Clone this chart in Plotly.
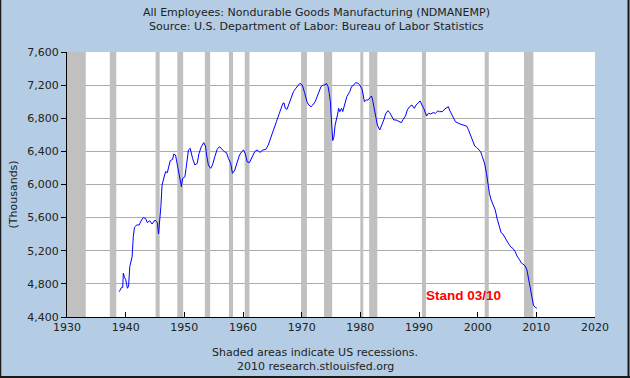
import plotly.graph_objects as go

# ---- data ----
years = [
    1938.9, 1939.3, 1939.5, 1939.6, 1939.8, 1940.0, 1940.3, 1940.5, 1940.7, 1941.1,
    1941.3, 1941.5, 1941.9, 1942.3, 1942.7, 1943.0, 1943.4, 1943.7, 1944.1, 1944.5,
    1945.0, 1945.4, 1945.6, 1945.8, 1946.0, 1946.2, 1946.4, 1946.8, 1947.1, 1947.4,
    1947.6, 1948.0, 1948.2, 1948.5, 1948.7, 1949.1, 1949.3, 1949.5, 1949.7, 1950.1,
    1950.3, 1950.5, 1950.7, 1951.0, 1951.2, 1951.4, 1951.8, 1952.2, 1952.5, 1952.9,
    1953.3, 1953.6, 1953.8, 1954.1, 1954.5, 1954.8, 1955.2, 1955.6, 1956.0, 1956.3,
    1956.8, 1957.2, 1957.5, 1957.9, 1958.2, 1958.6, 1958.9, 1959.4, 1959.8, 1960.1,
    1960.4, 1960.7, 1961.1, 1961.5, 1962.0, 1962.4, 1962.9, 1963.4, 1963.9, 1964.3,
    1964.8, 1965.2, 1965.7, 1966.2,
    1966.5, 1966.8, 1967.0, 1967.2, 1967.5, 1967.9, 1968.3, 1968.6, 1969.0, 1969.4,
    1969.7, 1970.1, 1970.3, 1970.5, 1970.9, 1971.2, 1971.6, 1971.9, 1972.3, 1972.6,
    1973.0, 1973.3, 1973.7, 1974.0, 1974.2, 1974.5, 1974.7, 1974.9, 1975.0, 1975.2,
    1975.3, 1975.5, 1975.7, 1976.1, 1976.3, 1976.5, 1976.8, 1977.0, 1977.4, 1977.7,
    1978.2, 1978.5, 1978.9, 1979.2, 1979.6, 1979.9, 1980.3, 1980.5, 1980.7, 1981.0,
    1981.3, 1981.7, 1981.9, 1982.1, 1982.4, 1982.6, 1982.9, 1983.3, 1983.6, 1984.0,
    1984.3, 1984.7, 1985.0, 1985.4, 1985.7, 1986.1, 1986.5, 1987.0, 1987.3, 1987.7,
    1988.0, 1988.4, 1988.8, 1989.2, 1989.5, 1989.9, 1990.2,
    1990.5, 1990.8, 1991.3, 1991.6, 1992.0, 1992.4, 1992.8, 1993.2, 1993.5, 1994.0,
    1994.4, 1995.0, 1995.2, 1995.6, 1996.2, 1997.0, 1997.6, 1998.1, 1998.4, 1998.8,
    1999.1, 1999.5, 1999.8, 2000.2, 2000.5, 2000.8, 2001.2, 2001.5, 2001.7, 2002.0,
    2002.3, 2002.6, 2003.0, 2003.3, 2003.6, 2004.0, 2004.3, 2004.6, 2005.0, 2005.3,
    2005.7, 2006.0, 2006.4, 2006.7, 2007.1, 2007.4, 2007.7, 2008.1, 2008.4, 2008.6,
    2008.9, 2009.1, 2009.3, 2009.5, 2009.8, 2010.1,
]
employees = [
    4706, 4758, 4758, 4928, 4879, 4855, 4747, 4774, 5008, 5128,
    5370, 5483, 5511, 5511, 5571, 5600, 5590, 5539, 5563, 5523,
    5571, 5539, 5402, 5550, 5732, 5994, 6046, 6155, 6143, 6215,
    6288, 6304, 6368, 6356, 6275, 6155, 6054, 5974, 6074, 6094,
    6195, 6316, 6417, 6437, 6376, 6316, 6236, 6256, 6376, 6457,
    6505, 6465, 6356, 6236, 6195, 6236, 6336, 6425, 6457, 6437,
    6397, 6384, 6316, 6256, 6135, 6175, 6256, 6356, 6397, 6417,
    6368, 6275, 6264, 6316, 6397, 6417, 6388, 6417, 6425, 6477,
    6570, 6667, 6759, 6860,
    6920, 6980, 6985, 6920, 6908, 6985, 7061, 7121, 7162, 7190,
    7222, 7202, 7133, 7109, 7000, 6960, 6940, 6960, 7000, 7061,
    7121, 7182, 7202, 7202, 7222, 7182, 7101, 7000, 6860, 6658,
    6530, 6578, 6718, 6839, 6920, 6880, 6920, 6880, 6980, 7061,
    7121, 7182, 7202, 7230, 7222, 7202, 7150, 7081, 7000, 7020,
    7020, 7053, 7069, 7020, 6920, 6819, 6718, 6658, 6706, 6779,
    6851, 6892, 6868, 6819, 6779, 6779, 6767, 6747, 6787, 6827,
    6900, 6940, 6960, 6920, 6960, 6985, 7010,
    6960, 6920, 6827, 6860, 6851, 6868, 6860, 6888, 6880, 6880,
    6912, 6940, 6900, 6839, 6759, 6730, 6714, 6706, 6666, 6597,
    6538, 6465, 6449, 6425, 6397, 6336, 6248, 6135, 6014, 5894,
    5813, 5753, 5692, 5592, 5511, 5418, 5402, 5363, 5310, 5281,
    5241, 5229, 5189, 5137, 5097, 5056, 5040, 5016, 4968, 4887,
    4786, 4686, 4605, 4545, 4517, 4505,
]
recession_start = [1930.0, 1937.3, 1945.1, 1948.8, 1953.5, 1957.6, 1960.3,
                   1969.9, 1973.8, 1980.0, 1981.5, 1990.5, 2001.2, 2007.9]
recession_end = [1933.2, 1938.4, 1945.8, 1949.8, 1954.4, 1958.3, 1961.1,
                 1970.9, 1975.2, 1980.5, 1982.9, 1991.2, 2001.9, 2009.5]
x_ticks = [1930, 1940, 1950, 1960, 1970, 1980, 1990, 2000, 2010, 2020]
y_ticks = [4400, 4800, 5200, 5600, 6000, 6400, 6800, 7200, 7600]

BG = "#B4CDE4"
FONT = "DejaVu Sans"
TXT = "#222222"

fig = go.Figure()
fig.add_trace(go.Scatter(x=years, y=employees, mode="lines",
                         line=dict(color="#0000FF", width=1),
                         hoverinfo="skip", showlegend=False))

shapes = []
for s, e in zip(recession_start, recession_end):
    shapes.append(dict(type="rect", xref="x", yref="y", x0=s, x1=e,
                       y0=4400, y1=7600, fillcolor="#C0C0C0",
                       line=dict(width=0), layer="between"))

# outer frame lines (left, right, bottom)
W, H = 630, 378
ml, mr, mt, mb = 67, 35, 52, 61
pw, ph = W - ml - mr, H - mt - mb
def px(x):
    return (x - ml) / pw
def py(y):
    return (H - mb - y) / ph
shapes += [
    dict(type="line", xref="paper", yref="paper", x0=px(0.5), x1=px(0.5),
         y0=py(0), y1=py(377.5), line=dict(color="#1a1a1a", width=1.5)),
    dict(type="line", xref="paper", yref="paper", x0=px(628.5), x1=px(628.5),
         y0=py(0), y1=py(377.5), line=dict(color="#1a1a1a", width=2)),
    dict(type="line", xref="paper", yref="paper", x0=px(0), x1=px(630),
         y0=py(377), y1=py(377), line=dict(color="#1a1a1a", width=2)),
]

def note(text, x, y, **kw):
    d = dict(text=text, xref="paper", yref="paper", x=px(x), y=py(y),
             xanchor="center", yanchor="middle", showarrow=False,
             font=dict(family=FONT, size=11, color=TXT))
    d.update(kw)
    return d

annotations = [
    note("(Thousands)", 12.5, 195, textangle=-90),
    note("Shaded areas indicate US recessions.", 315, 352),
    note("2010 research.stlouisfed.org", 315, 366),
    note("All Employees: Nondurable Goods Manufacturing (NDMANEMP)", 316, 12.5),
    note("Source: U.S. Department of Labor: Bureau of Labor Statistics", 316, 26.5),
    dict(text="<b>Stand 03/10</b>", xref="x", yref="y", x=1997.5, y=4655,
         xanchor="center", yanchor="middle", showarrow=False,
         font=dict(family="Liberation Sans", size=13.5, color="#FF0000")),
]

fig.update_layout(
    width=W, height=H,
    margin=dict(l=ml, r=mr, t=mt, b=mb, pad=0),
    paper_bgcolor=BG, plot_bgcolor="#FFFFFF",
    shapes=shapes, annotations=annotations,
    font=dict(family=FONT, size=11, color=TXT),
    xaxis=dict(range=[1930, 2020], tickvals=x_ticks, ticktext=[str(t) for t in x_ticks],
               ticks="inside", ticklen=5, tickcolor="#000000",
               showline=True, linecolor="#000000", linewidth=1,
               showgrid=False, zeroline=False, fixedrange=True),
    yaxis=dict(range=[4400, 7600], tickvals=y_ticks,
               ticktext=[f"{v:,}" for v in y_ticks],
               ticks="outside", ticklen=5, tickcolor="#000000",
               showline=True, linecolor="#000000", linewidth=1,
               showgrid=True, gridcolor="#ABABAB", gridwidth=1,
               zeroline=False, fixedrange=True),
)

fig.write_html("out.html", config={"displayModeBar": False},
               post_script="document.body.style.margin='0';")
